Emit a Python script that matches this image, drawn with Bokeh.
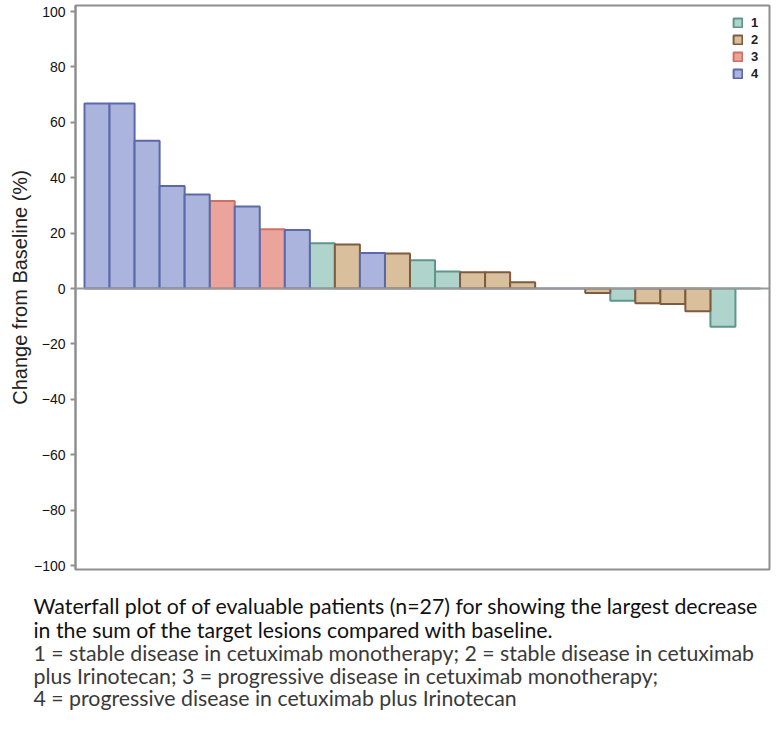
from bokeh.plotting import figure
from bokeh.layouts import column
from bokeh.models import ColumnDataSource, CDSView, GroupFilter, Span, Range1d, FixedTicker, Legend, LegendItem
from bokeh.core.properties import value
from bokeh.embed import file_html
from bokeh.resources import INLINE

# ---- data ----
patients = list(range(27))
change = [66.8, 66.8, 53.3, 37.0, 33.9, 31.6, 29.6, 21.4, 21.1, 16.3, 15.9, 12.8, 12.6, 10.2,
          6.1, 5.9, 5.9, 2.3, 0.0, 0.0, -1.6, -4.4, -5.3, -5.6, -8.2, -13.8, 0.0]
group = ["4", "4", "4", "4", "4", "3", "4", "3", "4", "1", "2", "4", "2", "1",
         "1", "2", "2", "2", "4", "4", "2", "1", "2", "2", "2", "1", "1"]
group_labels = ["1", "2", "3", "4"]
fill_colors = ["#afd4cc", "#d9bf9c", "#eaa49b", "#abb4dc"]
line_colors = ["#5f958d", "#7e5c3f", "#cf7064", "#5c68aa"]
y_ticks = [-100, -80, -60, -40, -20, 0, 20, 40, 60, 80, 100]
caption = [
    "Waterfall plot of of evaluable patients (n=27) for showing the largest decrease",
    "in the sum of the target lesions compared with baseline.",
    "1 = stable disease in cetuximab monotherapy; 2 = stable disease in cetuximab",
    "plus Irinotecan; 3 = progressive  disease in cetuximab monotherapy;",
    "4 = progressive disease in cetuximab plus Irinotecan",
]
caption_colors = ["#111111", "#111111", "#3a3a3a", "#3a3a3a", "#3a3a3a"]

src = ColumnDataSource(dict(x=patients, y=change, g=group))

p = figure(frame_width=694, frame_height=564, output_backend="svg", toolbar_location=None,
           x_range=Range1d(-0.86, 26.86), y_range=Range1d(-101.44, 102.17),
           x_axis_location=None, min_border_left=75, min_border_top=5, min_border_right=2,
           min_border_bottom=8)
p.frame_align = False
p.grid.visible = False
p.outline_line_color = "#8f8f8f"
p.outline_line_width = 2
p.background_fill_color = "white"
p.border_fill_color = "white"

items = []
for lab, fc, lc in zip(group_labels, fill_colors, line_colors):
    view = CDSView(filter=GroupFilter(column_name="g", group=lab))
    r = p.vbar(x="x", top="y", bottom=0, width=1.0, source=src, view=view,
               fill_color=fc, line_color=lc, line_width=2)
    items.append(LegendItem(label=lab, renderers=[r]))

p.add_layout(Span(location=0, dimension="width", line_color="#999999", line_width=2))

legend = Legend(items=items, location="top_right", border_line_alpha=0,
                background_fill_alpha=0, glyph_width=11, glyph_height=11,
                label_height=11, label_width=8, spacing=2, padding=3, margin=7,
                label_text_font="Liberation Sans", label_text_font_size="13px",
                label_text_font_style="bold", label_text_color="#222222",
                label_standoff=8)
p.add_layout(legend)

ax = p.yaxis[0]
ax.ticker = FixedTicker(ticks=y_ticks)
ax.axis_line_color = "#8f8f8f"
ax.axis_line_width = 2
ax.major_tick_line_color = "#8f8f8f"
ax.major_tick_line_width = 2
ax.major_tick_out = 5
ax.major_tick_in = 0
ax.minor_tick_line_color = None
ax.major_label_text_font = "Liberation Sans"
ax.major_label_text_font_size = "14px"
ax.major_label_text_color = "#111111"
ax.major_label_standoff = 5
ax.axis_label = "Change from Baseline (%)"
ax.axis_label_text_font = "Liberation Sans"
ax.axis_label_text_font_size = "20px"
ax.axis_label_text_font_style = "normal"
ax.axis_label_text_color = "#222222"
ax.axis_label_standoff = 0

# ---- caption panel (pixel coordinates, top-down) ----
CAP_W, CAP_H = 771, 148
cap_x = [33, 33, 33, 33, 33]
cap_y = [28, 52, 75, 98, 120]
cap_src = ColumnDataSource(dict(x=cap_x, y=cap_y, t=caption, c=caption_colors))
c = figure(width=CAP_W, height=CAP_H, output_backend="svg", toolbar_location=None,
           x_range=Range1d(0, CAP_W), y_range=Range1d(CAP_H, 0),
           x_axis_location=None, y_axis_location=None,
           min_border_left=0, min_border_right=0, min_border_top=0, min_border_bottom=0)
c.frame_align = False
c.grid.visible = False
c.outline_line_color = None
c.text(x="x", y="y", text="t", text_color="c", source=cap_src,
       text_font=value("Lato"), text_font_size="21.3px",
       text_baseline="middle", text_align="left")

layout = column(p, c, spacing=0)
open("out.html", "w").write(file_html(layout, INLINE))
